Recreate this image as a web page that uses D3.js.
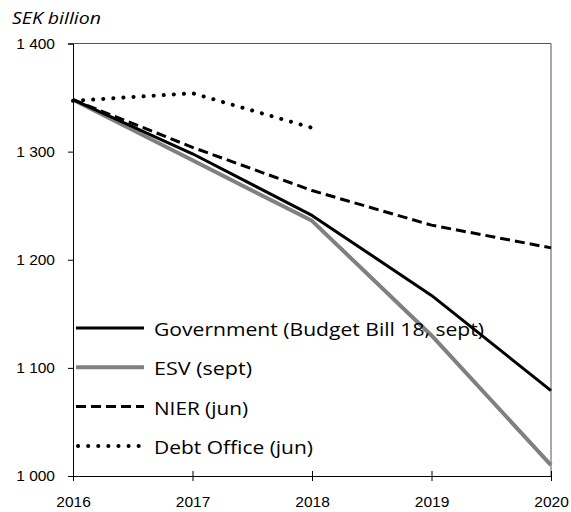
<!DOCTYPE html>
<html>
<head>
<meta charset="utf-8">
<script src="https://cdn.jsdelivr.net/npm/d3@7"></script>
<style>
  body { margin: 0; background: #fff; }
  svg { font-family: "Open Sans", "Noto Sans", sans-serif; }
</style>
</head>
<body>
<svg id="chart" width="571" height="512"></svg>
<script>
// data
const years = [2016, 2017, 2018, 2019, 2020];
const government = [1348, 1298, 1241, 1167, 1079];
const esv = [1348, 1292, 1236, 1130, 1010];
const nier = [1348, 1304, 1264, 1232, 1211];
const debtOffice = [1347, 1354, 1322];
const yTicks = [1000, 1100, 1200, 1300, 1400];
const seriesNames = ["Government (Budget Bill 18, sept)", "ESV (sept)", "NIER (jun)", "Debt Office (jun)"];

const svg = d3.select("#chart");
const plotLeft = 73, plotRight = 551, plotTop = 43.5, plotBottom = 476;

let xscale = d3.scaleLinear().domain([2016, 2020]).range([plotLeft, plotRight]);
let yscale = d3.scaleLinear().domain([1000, 1400]).range([plotBottom, plotTop]);

// plot frame (top + right)
svg.append("path")
   .attr("d", `M${plotLeft},${plotTop}H${plotRight}V${plotBottom}`)
   .attr("fill", "none")
   .attr("stroke", "#555")
   .attr("stroke-width", 1);

// y axis
let yAxis = svg.append("g").attr("transform", `translate(${plotLeft},0)`)
   .call(d3.axisLeft(yscale).tickValues(yTicks).tickSize(5)
         .tickFormat(d => d3.format(",")(d).replace(",", " ")));
yAxis.select(".domain").attr("stroke", "#000");
yAxis.selectAll("text").attr("font-size", 15.5).attr("fill", "#000").attr("x", -18);

// x axis, ticks cross the line
let xAxis = svg.append("g").attr("transform", `translate(0,${plotBottom})`)
   .call(d3.axisBottom(xscale).tickValues(years).tickFormat(d3.format("d")).tickSizeOuter(0).tickSize(5));
xAxis.selectAll(".tick line").attr("y1", -5);
xAxis.selectAll("text").attr("font-size", 15.5).attr("fill", "#000").attr("y", 20);

// y-axis title
svg.append("text")
   .attr("x", 12).attr("y", 24)
   .attr("font-size", 16).attr("font-style", "italic")
   .attr("textLength", 89).attr("lengthAdjust", "spacingAndGlyphs")
   .text("SEK billion");

const styles = [
  {data: government, stroke: "#000", width: 3, dash: null, cap: "butt"},
  {data: esv, stroke: "#808080", width: 4, dash: null, cap: "butt"},
  {data: nier, stroke: "#000", width: 3, dash: "10 5", cap: "butt"},
  {data: debtOffice, stroke: "#000", width: 4, dash: "0.1 10", cap: "round"}
];
// legend label widths as measured on the reference
const legendWidths = [330, 98, 94, 159];

let dline = d3.line()
   .x((d, i) => xscale(years[i]))
   .y(d => yscale(d));

let lines = svg.append("g");
// draw ESV first so black line sits above it
[1, 0, 2, 3].forEach(k => {
  const s = styles[k];
  lines.append("path")
       .datum(s.data)
       .attr("fill", "none")
       .attr("stroke", s.stroke)
       .attr("stroke-width", s.width)
       .attr("stroke-dasharray", s.dash)
       .attr("stroke-linecap", s.cap)
       .attr("stroke-linejoin", "round")
       .attr("d", dline);
});

// legend
let legend = svg.append("g");
seriesNames.forEach((name, i) => {
  const s = styles[i];
  const y = 328 + i * 39.3;
  legend.append("line")
        .attr("x1", s.cap === "round" ? 78 : 76).attr("x2", 144)
        .attr("y1", y).attr("y2", y)
        .attr("stroke", s.stroke)
        .attr("stroke-width", s.width)
        .attr("stroke-dasharray", s.dash)
        .attr("stroke-linecap", s.cap);
  legend.append("text")
        .attr("x", 154).attr("y", y + 8)
        .attr("font-size", 19)
        .attr("fill", "#000")
        .attr("textLength", legendWidths[i])
        .attr("lengthAdjust", "spacingAndGlyphs")
        .text(name);
});
</script>
</body>
</html>
